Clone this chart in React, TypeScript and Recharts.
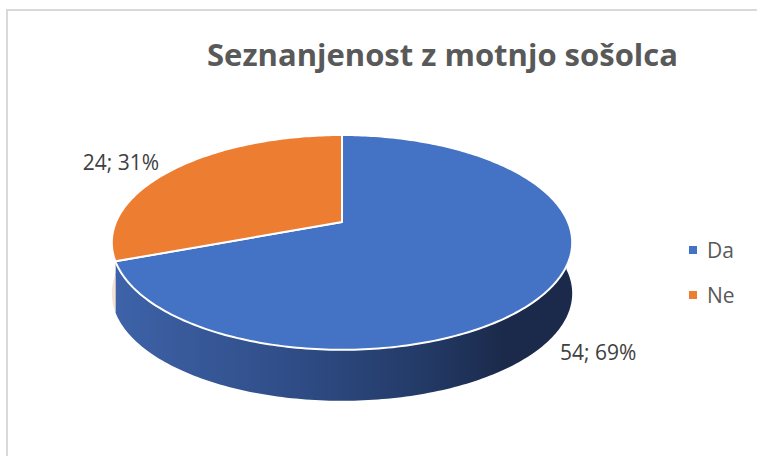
import React from 'react';
import { PieChart, Pie } from 'recharts';

const categories = ['Da', 'Ne'];
const counts = [54, 24];
const topColors = ['#4472C4', '#ED7D31'];
const sideStops = [
  ['#3e63a9', '#2f4c86', '#233a66', '#1b2a4b'],
  ['#f5e3d6', '#eab08a', '#c86b2a', '#8a4413'],
];
const title = 'Seznanjenost z motnjo sošolca';

const data = categories.map((name, i) => ({ name, value: counts[i], fill: topColors[i] }));

const CX = 342;
const CY = 222;
const R = 226;
const P = 0.19;
const SQ = 0.458;
const DEPTH = 51;
const FONT = '"Open Sans", "Liberation Sans", sans-serif';

function proj(cx: number, cy: number, r: number, deg: number, k = 1, dz = 0): [number, number] {
  const t = (deg * Math.PI) / 180;
  const u = k * Math.cos(t);
  const v = -k * Math.sin(t);
  const d = 1 - P * v;
  return [cx + (r * u) / d, cy + (r * SQ * v) / d + dz];
}

function arcPts(cx: number, cy: number, r: number, a0: number, a1: number, dz: number) {
  const n = Math.max(2, Math.ceil(Math.abs(a1 - a0)));
  const pts: [number, number][] = [];
  for (let i = 0; i <= n; i++) pts.push(proj(cx, cy, r, a0 + ((a1 - a0) * i) / n, 1, dz));
  return pts;
}

const toPath = (pts: [number, number][]) =>
  pts.map((p, i) => `${i === 0 ? 'M' : 'L'}${p[0].toFixed(2)},${p[1].toFixed(2)}`).join(' ');

const idxOf = (props: any) => {
  const n = props.name ?? props.payload?.name;
  const i = categories.indexOf(n);
  return i < 0 ? 0 : i;
};

const TopShape = (props: any) => {
  const { cx, cy, outerRadius, startAngle, endAngle, fill } = props;
  const pts = arcPts(cx, cy, outerRadius, startAngle, endAngle, 0);
  const d = `M${cx},${cy} ` + toPath(pts).replace(/^M/, 'L') + ' Z';
  return <path d={d} fill={fill} stroke="#ffffff" strokeWidth={2} strokeLinejoin="round" />;
};

const SideShape = (props: any) => {
  const { cx, cy, outerRadius, startAngle, endAngle } = props;
  const i = idxOf(props);
  const lo = Math.min(startAngle, endAngle);
  const hi = Math.max(startAngle, endAngle);
  const parts: string[] = [];
  for (let k = -2; k <= 2; k++) {
    const a = Math.max(lo, -180 + 360 * k);
    const b = Math.min(hi, 2 + 360 * k);
    if (a < b) {
      const top = arcPts(cx, cy, outerRadius, a, b, 0);
      const bot = arcPts(cx, cy, outerRadius, b, a, DEPTH);
      parts.push(toPath([...top, ...bot]) + ' Z');
    }
  }
  const gid = `sideGrad${i}`;
  const stops = sideStops[i];
  return (
    <g>
      <defs>
        <linearGradient id={gid} gradientUnits="userSpaceOnUse" x1={cx - outerRadius * 1.02} y1={0} x2={cx + outerRadius * 1.02} y2={0}>
          <stop offset="0" stopColor={stops[0]} />
          <stop offset="0.4" stopColor={stops[1]} />
          <stop offset="0.68" stopColor={stops[2]} />
          <stop offset="0.85" stopColor={stops[3]} />
          <stop offset="1" stopColor={stops[3]} />
        </linearGradient>
      </defs>
      {parts.map((d, j) => (
        <path key={j} d={d} fill={`url(#${gid})`} stroke="none" />
      ))}
    </g>
  );
};

const renderLabel = (props: any) => {
  const { cx, cy, outerRadius, midAngle, value, percent } = props;
  const t = (midAngle * Math.PI) / 180;
  const v = -Math.sin(t);
  const front = v > 0;
  const [x, y] = proj(cx, cy, outerRadius, midAngle, front ? 1.04 : 1.1, front ? DEPTH * 1.2 : -2);
  const anchor = Math.cos(t) >= 0 ? 'start' : 'end';
  return (
    <text x={x} y={y} textAnchor={anchor} dominantBaseline="central" fill="#404040" fontSize={21} fontFamily={FONT}>
      {`${value}; ${Math.round(percent * 100)}%`}
    </text>
  );
};

export default function App() {
  return (
    <div style={{ position: 'fixed', left: 0, top: 0, width: 757, height: 456, overflow: 'hidden', background: '#ffffff' }}>
      <div
        style={{
          position: 'absolute',
          left: 0,
          top: 39,
          width: 757,
          paddingLeft: 128,
          boxSizing: 'border-box',
          textAlign: 'center',
          fontFamily: FONT,
          fontWeight: 700,
          fontSize: 31,
          lineHeight: '31px',
          color: '#595959',
          whiteSpace: 'nowrap',
        }}
      >
        {title}
      </div>
      <div style={{ position: 'absolute', left: 0, top: 0 }}>
        <PieChart width={757} height={456} margin={{ top: 0, right: 0, bottom: 0, left: 0 }}>
          <Pie
            data={data}
            dataKey="value"
            nameKey="name"
            cx={CX}
            cy={CY}
            outerRadius={R}
            startAngle={90}
            endAngle={-270}
            isAnimationActive={false}
            legendType="none"
            shape={SideShape}
            activeShape={SideShape}
            inactiveShape={SideShape}
            stroke="none"
          />
          <Pie
            data={data}
            dataKey="value"
            nameKey="name"
            cx={CX}
            cy={CY}
            outerRadius={R}
            startAngle={90}
            endAngle={-270}
            isAnimationActive={false}
            legendType="square"
            shape={TopShape}
            activeShape={TopShape}
            inactiveShape={TopShape}
            label={renderLabel}
            labelLine={false}
          />
        </PieChart>
      </div>
      <div style={{ position: 'absolute', left: 689, top: 227, fontFamily: FONT }}>
        {categories.map((name, i) => (
          <div key={name} style={{ display: 'flex', alignItems: 'center', height: 45 }}>
            <div style={{ width: 8, height: 8, background: topColors[i], marginRight: 10 }} />
            <span style={{ fontSize: 21, color: '#595959' }}>{name}</span>
          </div>
        ))}
      </div>
      <div style={{ position: 'absolute', left: 6, top: 9, width: 751, height: 2, background: '#d9d9d9' }} />
      <div style={{ position: 'absolute', left: 6, top: 9, width: 2, height: 447, background: '#d9d9d9' }} />
    </div>
  );
}
